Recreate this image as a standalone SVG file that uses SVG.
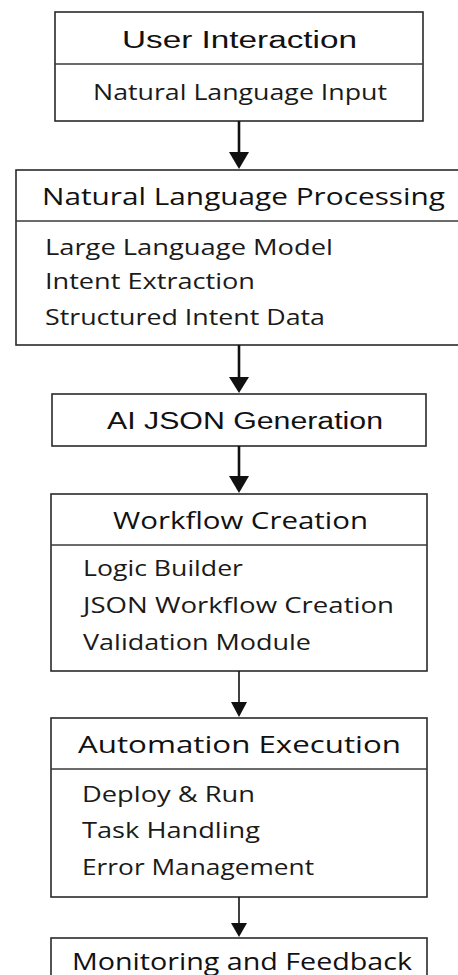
<svg xmlns="http://www.w3.org/2000/svg" width="458" height="975" viewBox="0 0 458 975">
  <style>
    .box { fill: #ffffff; stroke: #2a2a2a; stroke-width: 1.6; }
    .div { stroke: #3a3a3a; stroke-width: 1.4; }
    .title { font-family: "Open Sans", "Noto Sans", sans-serif; font-size: 23px; fill: #111111; }
    .title-h { font-family: "Liberation Sans", Arial, sans-serif; font-size: 23px; fill: #111111; }
    .item { font-family: "Open Sans", "Noto Sans", sans-serif; font-size: 21px; fill: #1a1a1a; }
    .wire { stroke: #111111; fill: none; }
    .thick { stroke-width: 2.6; }
    .thin { stroke-width: 1.6; }
    .head { fill: #111111; }
  </style>

  <rect width="458" height="975" fill="#ffffff"/>

  <!-- Stage 1 -->
  <g id="user-interaction">
    <rect class="box" x="55" y="12" width="368" height="109"/>
    <line class="div" x1="55" y1="64" x2="423" y2="64"/>
    <text class="title-h" x="122" y="48" textLength="235" lengthAdjust="spacingAndGlyphs">User Interaction</text>
    <text class="item" x="93" y="100" textLength="294" lengthAdjust="spacingAndGlyphs">Natural Language Input</text>
  </g>

  <!-- Stage 2 -->
  <g id="nlp">
    <rect class="box" x="16" y="170" width="460" height="175"/>
    <line class="div" x1="16" y1="221" x2="476" y2="221"/>
    <text class="title" x="42" y="205" textLength="403" lengthAdjust="spacingAndGlyphs">Natural Language Processing</text>
    <text class="item" x="45" y="255" textLength="288" lengthAdjust="spacingAndGlyphs">Large Language Model</text>
    <text class="item" x="45" y="289" textLength="210" lengthAdjust="spacingAndGlyphs">Intent Extraction</text>
    <text class="item" x="45" y="325" textLength="280" lengthAdjust="spacingAndGlyphs">Structured Intent Data</text>
  </g>

  <!-- Stage 3 -->
  <g id="ai-json">
    <rect class="box" x="52" y="394" width="374" height="52"/>
    <text class="title-h" x="107" y="429" textLength="276" lengthAdjust="spacingAndGlyphs">AI JSON Generation</text>
  </g>

  <!-- Stage 4 -->
  <g id="workflow">
    <rect class="box" x="51" y="494" width="376" height="177"/>
    <line class="div" x1="51" y1="545" x2="427" y2="545"/>
    <text class="title" x="113" y="529" textLength="255" lengthAdjust="spacingAndGlyphs">Workflow Creation</text>
    <text class="item" x="83" y="576" textLength="160" lengthAdjust="spacingAndGlyphs">Logic Builder</text>
    <text class="item" x="83" y="613" textLength="311" lengthAdjust="spacingAndGlyphs">JSON Workflow Creation</text>
    <text class="item" x="83" y="650" textLength="228" lengthAdjust="spacingAndGlyphs">Validation Module</text>
  </g>

  <!-- Stage 5 -->
  <g id="automation">
    <rect class="box" x="51" y="718" width="376" height="179"/>
    <line class="div" x1="51" y1="769" x2="427" y2="769"/>
    <text class="title" x="78" y="753" textLength="323" lengthAdjust="spacingAndGlyphs">Automation Execution</text>
    <text class="item" x="82" y="802" textLength="173" lengthAdjust="spacingAndGlyphs">Deploy &amp; Run</text>
    <text class="item" x="82" y="838" textLength="178" lengthAdjust="spacingAndGlyphs">Task Handling</text>
    <text class="item" x="82" y="875" textLength="232" lengthAdjust="spacingAndGlyphs">Error Management</text>
  </g>

  <!-- Stage 6 -->
  <g id="monitoring">
    <rect class="box" x="51" y="938" width="376" height="60"/>
    <text class="title" x="72" y="970" textLength="340" lengthAdjust="spacingAndGlyphs">Monitoring and Feedback</text>
  </g>

  <!-- Connectors -->
  <g id="connectors">
    <line class="wire thick" x1="239" y1="121" x2="239" y2="154"/>
    <polygon class="head" points="229,152 249,152 239,169"/>
    <line class="wire thick" x1="239" y1="345" x2="239" y2="379"/>
    <polygon class="head" points="229,377 249,377 239,393"/>
    <line class="wire thick" x1="239" y1="446" x2="239" y2="478"/>
    <polygon class="head" points="229,476 249,476 239,493"/>
    <line class="wire thin" x1="239" y1="671" x2="239" y2="704"/>
    <polygon class="head" points="231,702 247,702 239,717"/>
    <line class="wire thin" x1="239" y1="897" x2="239" y2="925"/>
    <polygon class="head" points="231,923 247,923 239,937"/>
  </g>
</svg>
